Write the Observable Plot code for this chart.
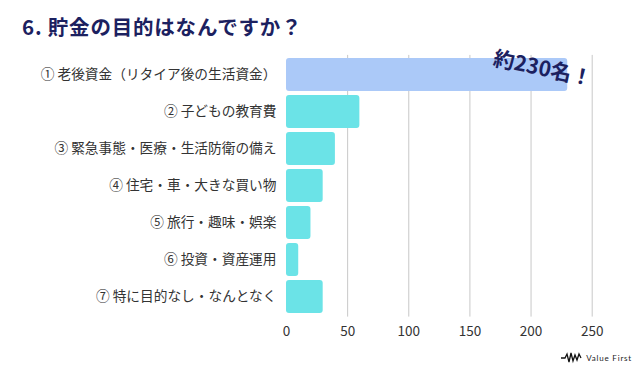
<!DOCTYPE html>
<html>
<head>
<meta charset="utf-8">
<script src="https://cdn.jsdelivr.net/npm/d3@7"></script>
<script src="https://cdn.jsdelivr.net/npm/@observablehq/plot@0.6"></script>
<style>
  html, body { margin: 0; padding: 0; background: #fff; }
  body { width: 640px; height: 370px; position: relative; overflow: hidden; font-family: "Noto Sans CJK JP", "Noto Sans", sans-serif; }
  #title { position: absolute; left: 22px; top: 11px; font-size: 20.5px; font-weight: 700; color: #1c2160; letter-spacing: 0.8px; }
  #chart { position: absolute; left: 0; top: 40px; }
  #logo { position: absolute; right: 8px; bottom: 6px; display: flex; align-items: center; gap: 3px; font-family: "Lato", sans-serif; font-size: 8px; color: #222; letter-spacing: 0.8px; }
</style>
</head>
<body>
<div id="title">6. 貯金の目的はなんですか？</div>
<div id="chart"></div>
<div id="logo"><svg width="22" height="12" viewBox="0 0 22 12"><polyline points="0,6 4,6 6,2 8,10 10,1 12,9 14,3 16,8 18,2 20,6" fill="none" stroke="#111" stroke-width="1.3"/></svg><span>Value First</span></div>
<script>
const categories = [
  "① 老後資金（リタイア後の生活資金）",
  "② 子どもの教育費",
  "③ 緊急事態・医療・生活防衛の備え",
  "④ 住宅・車・大きな買い物",
  "⑤ 旅行・趣味・娯楽",
  "⑥ 投資・資産運用",
  "⑦ 特に目的なし・なんとなく"
];
const values = [230, 60, 40, 30, 20, 10, 30];
const barColors = ["#abc9f8", "#6be3e7", "#6be3e7", "#6be3e7", "#6be3e7", "#6be3e7", "#6be3e7"];
const xTicks = [0, 50, 100, 150, 200, 250];
const gridTicks = [50, 100, 150, 200, 250];
const annotation = [{category: categories[0], value: 230, label: "約230名！"}];

const data = categories.map((c, i) => ({category: c, value: values[i], color: barColors[i]}));

const chart = Plot.plot({
  width: 640,
  height: 310,
  marginLeft: 286,
  marginRight: 48.3,
  marginTop: 10.9,
  marginBottom: 29.4,
  style: {fontFamily: "'Noto Sans CJK JP', 'Noto Sans', sans-serif", background: "transparent", color: "#333"},
  x: {domain: [0, 250], ticks: xTicks, label: null},
  y: {domain: categories, label: null, padding: 0.116},
  marks: [
    Plot.gridX(gridTicks, {stroke: "#c8c8c8", strokeOpacity: 1, strokeWidth: 1, insetTop: 4, insetBottom: 4}),
    Plot.barX(data, {x: "value", y: "category", fill: "color", rx: 3}),
    Plot.axisX({ticks: xTicks, tickSize: 0, tickPadding: 5, fontSize: 13.5, fill: "#333"}),
    Plot.axisY({tickSize: 0, tickPadding: 10, fontSize: 13.7, fill: "#333"}),
    Plot.text(annotation, {x: "value", y: "category", text: "label", dx: -25, dy: -6, rotate: 12, fontSize: 21, fontWeight: 700, fill: "#1c2160", textAnchor: "middle"})
  ]
});
document.getElementById("chart").appendChild(chart);
</script>
</body>
</html>
